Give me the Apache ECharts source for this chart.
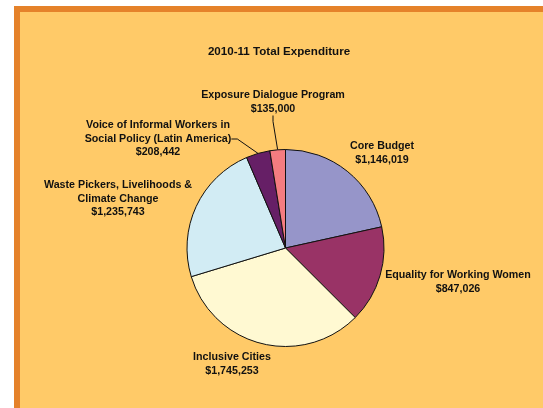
<!DOCTYPE html>
<html><head><meta charset="utf-8">
<script src="https://cdn.jsdelivr.net/npm/echarts@6/dist/echarts.min.js"></script>
<style>
html,body{margin:0;padding:0;background:#fff;width:543px;height:408px;overflow:hidden;}
#frame{position:absolute;left:14px;top:6px;width:529px;height:402px;background:#FFCA68;border-left:6px solid #E5822A;border-top:6px solid #E5822A;box-sizing:border-box;}
#chart{position:absolute;left:0;top:0;width:543px;height:408px;}
</style></head>
<body>
<div id="frame"></div>
<div id="chart"></div>
<script>
const categories = ["Core Budget","Equality for Working Women","Inclusive Cities","Waste Pickers, Livelihoods &\nClimate Change","Voice of Informal Workers in\nSocial Policy (Latin America)","Exposure Dialogue Program"];
const values = [1146019, 847026, 1745253, 1235743, 208442, 135000];
const colors = ["#9695C9","#993366","#FFF9D2","#D2ECF4","#661F66","#F47C80"];
const labelPos = [[382,153],[458,282],[232,364],[118,199],[158,139],[273,102]];
const showLine = [false,false,false,false,true,true];

const chart = echarts.init(document.getElementById('chart'), null, {renderer:'canvas'});
chart.setOption({
  backgroundColor:'transparent',
  title:{text:'2010-11 Total Expenditure',left:274,top:41,textAlign:'center',
    textStyle:{fontFamily:'Liberation Sans, Arial, sans-serif',fontSize:11.6,fontWeight:'bold',color:'#111'}},
  series:[{
    type:'pie',
    center:[285.5,248],
    radius:98.5,
    startAngle:90,
    clockwise:true,
    animation:false,
    data: categories.map((c,i)=>({name:c,value:values[i],itemStyle:{color:colors[i]},
      labelLine:{show:showLine[i]}})),
    itemStyle:{borderColor:'#111',borderWidth:1},
    label:{show:true,formatter:p=>p.name+'\n$'+p.value.toLocaleString('en-US'),
      overflow:'none',bleedMargin:0,
      fontFamily:'Liberation Sans, Arial, sans-serif',fontSize:10.7,fontWeight:'bold',color:'#111',lineHeight:13.5,align:'center'},
    labelLine:{lineStyle:{color:'#111',width:1},length:10,length2:6},
    labelLayout:function(p){const q=labelPos[p.dataIndex];return {x:q[0],y:q[1],align:'center',verticalAlign:'middle'};},
    emphasis:{disabled:true}
  }]
});
</script>
</body></html>
